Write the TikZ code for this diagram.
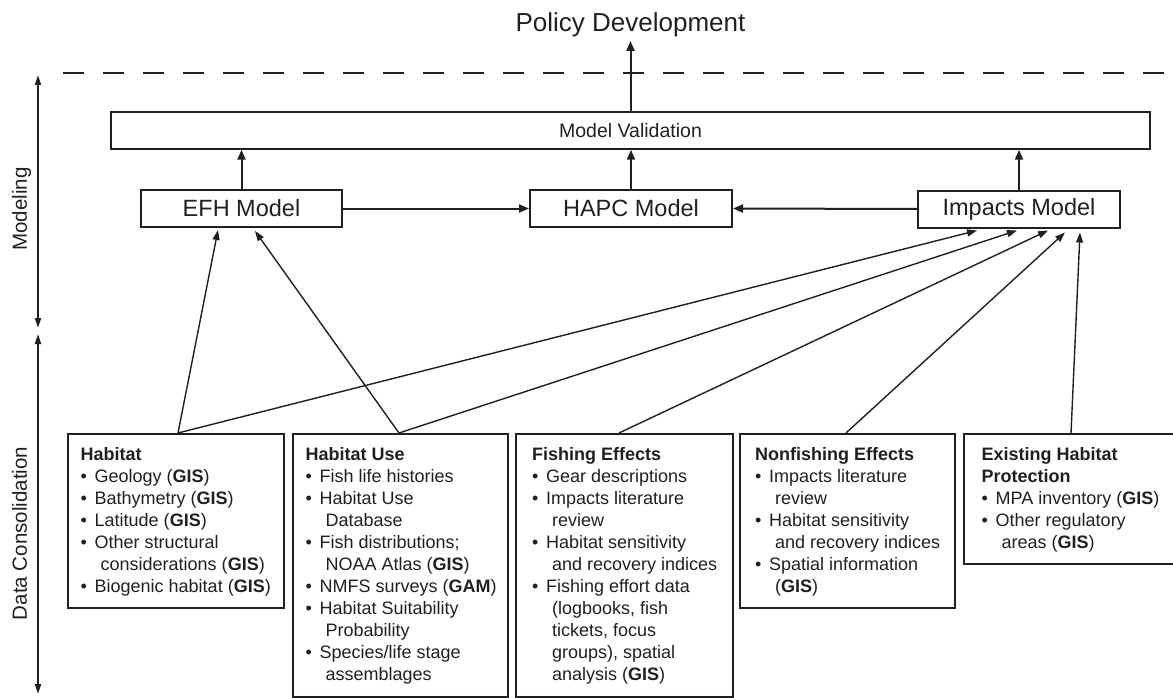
\documentclass[tikz,border=0pt]{standalone}
\usepackage{fontspec}
\setmainfont{Liberation Sans}
\usetikzlibrary{arrows.meta,calc}
\definecolor{ink}{HTML}{231F20}
\newcommand{\bul}{\makebox[14pt][l]{•}}
\newcommand{\cnt}{\hspace*{20pt}}
\tikzset{
  every node/.style={text=ink},
  model/.style={draw=ink, line width=2pt, minimum height=37pt, minimum width=202pt, inner sep=0pt, font=\fontsize{23.5}{28}\selectfont},
  databox/.style={draw=ink, line width=2pt, anchor=north west, inner sep=0pt},
  boxtext/.style={anchor=north west, align=left, inner sep=0pt, font=\fontsize{18}{22}\selectfont},
  arr/.style={draw=ink, line width=2pt, -{Triangle[length=10pt,width=8pt]}},
  thinarr/.style={draw=ink, line width=1.4pt, -{Triangle[length=10pt,width=7pt]}},
  axisarr/.style={draw=ink, line width=1.8pt, {Triangle[length=10pt,width=6pt]}-{Triangle[length=10pt,width=6pt]}},
  axislabel/.style={rotate=90, anchor=base, font=\fontsize{20.5}{24}\selectfont},
}
\begin{document}
\begin{tikzpicture}[x=1pt,y=-1pt]
\useasboundingbox (0,0) rectangle (1173,698);
\fill[white] (0,0) rectangle (1173,698);

% title and dashed boundary
\node[anchor=base, font=\fontsize{26}{30}\selectfont] (policy) at (630.5,32) {Policy Development};
\coordinate (dl) at (63,73.5);
\coordinate (dr) at (1173,73.5);
\draw[ink, line width=2pt, dash pattern=on 21pt off 19pt] (dl) -- (dr);

% left axis
\coordinate (m1) at (38,75);
\coordinate (m2) at (38,328);
\coordinate (d1) at (38,334);
\coordinate (d2) at (38,694);
\draw[axisarr] (m1) -- (m2);
\draw[axisarr] (d1) -- (d2);
\node[axislabel] (lmod) at (27,209) {Modeling};
\node[axislabel] (ldata) at (27,533.5) {Data Consolidation};

% modeling boxes
\node[model, minimum width=1039pt, minimum height=36.5pt, font=\fontsize{19.5}{24}\selectfont] (mv) at (630.5,130.5) {Model Validation};
\node[model, minimum width=201pt] (efh) at (241.5,208.5) {EFH Model};
\node[model] (hapc) at (631,208.5) {HAPC Model};
\node[model] (imp) at (1019,209) {Impacts Model};

\draw[arr] (mv.north) -- (mv.north |- policy.south);
\draw[arr] (efh.north) -- (efh.north |- mv.south);
\draw[arr] (hapc.north) -- (hapc.north |- mv.south);
\draw[arr] (imp.north) -- (imp.north |- mv.south);
\draw[arr] (efh.east) -- (hapc.west);
\draw[arr] (imp.west) -- (hapc.east);

% data boxes
\node[databox, minimum width=216pt, minimum height=174pt] (hab) at (67,433) {};
\node[databox, minimum width=215pt, minimum height=263pt] (use) at (292,433) {};
\node[databox, minimum width=217pt, minimum height=263pt] (fish) at (515,433) {};
\node[databox, minimum width=215pt, minimum height=174pt] (nonf) at (739,433) {};
\node[databox, minimum width=215pt, minimum height=130pt] (exist) at (963,433) {};

\node[boxtext] (habt) at ($(hab.north west)+(13.5,14)$) {\textbf{Habitat}\\
\bul Geology (\textbf{GIS})\\
\bul Bathymetry (\textbf{GIS})\\
\bul Latitude (\textbf{GIS})\\
\bul Other structural\\
\cnt considerations (\textbf{GIS})\\
\bul Biogenic habitat (\textbf{GIS})};

\node[boxtext] (uset) at ($(use.north west)+(13.5,14)$) {\textbf{Habitat Use}\\
\bul Fish life histories\\
\bul Habitat Use\\
\cnt Database\\
\bul Fish distributions;\\
\cnt NOAA Atlas (\textbf{GIS})\\
\bul NMFS surveys (\textbf{GAM})\\
\bul Habitat Suitability\\
\cnt Probability\\
\bul Species/life stage\\
\cnt assemblages};

\node[boxtext] (fisht) at ($(fish.north west)+(17,14)$) {\textbf{Fishing Effects}\\
\bul Gear descriptions\\
\bul Impacts literature\\
\cnt review\\
\bul Habitat sensitivity\\
\cnt and recovery indices\\
\bul Fishing effort data\\
\cnt (logbooks, fish\\
\cnt tickets, focus\\
\cnt groups), spatial\\
\cnt analysis (\textbf{GIS})};

\node[boxtext] (nonft) at ($(nonf.north west)+(16,14)$) {\textbf{Nonfishing Effects}\\
\bul Impacts literature\\
\cnt review\\
\bul Habitat sensitivity\\
\cnt and recovery indices\\
\bul Spatial information\\
\cnt (\textbf{GIS})};

\node[boxtext] (existt) at ($(exist.north west)+(18.5,14)$) {\textbf{Existing Habitat}\\
\textbf{Protection}\\
\bul MPA inventory (\textbf{GIS})\\
\bul Other regulatory\\
\cnt areas (\textbf{GIS})};

% data-to-model connectors
\draw[thinarr] ([xshift=2pt]hab.north) -- ([xshift=-23.5pt,yshift=-2pt]efh.south);
\draw[thinarr] ([xshift=-1.5pt]use.north) -- ([xshift=13.5pt,yshift=-3pt]efh.south);
\draw[thinarr] ([xshift=2pt]hab.north) -- ([xshift=-42pt,yshift=-2pt]imp.south);
\draw[thinarr] ([xshift=-1.5pt]use.north) -- ([xshift=-2pt,yshift=-2pt]imp.south);
\draw[thinarr] ([xshift=-5.5pt]fish.north) -- ([xshift=29pt,yshift=-2pt]imp.south);
\draw[thinarr] ([xshift=-1.5pt]nonf.north) -- ([xshift=46pt,yshift=-4pt]imp.south);
\draw[thinarr] ([xshift=-0.5pt]exist.north) -- ([xshift=61pt,yshift=-4pt]imp.south);
\end{tikzpicture}
\end{document}
